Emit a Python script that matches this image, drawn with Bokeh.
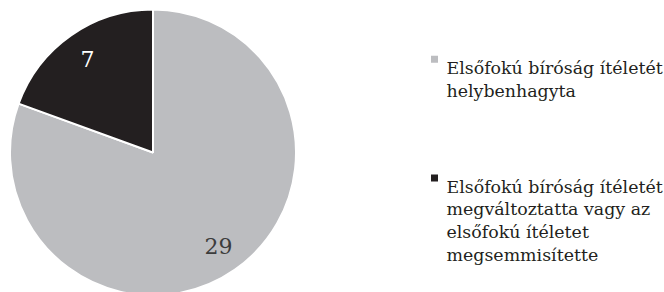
import math
from bokeh.plotting import figure
from bokeh.models import ColumnDataSource, Range1d
from bokeh.core.properties import value
from bokeh.embed import file_html
from bokeh.resources import INLINE

# ---- data ----
categories = [
    "Elsőfokú bíróság ítéletét\nhelybenhagyta",
    "Elsőfokú bíróság ítéletét\nmegváltoztatta vagy az\nelsőfokú ítéletet\nmegsemmisítette",
]
values = [29, 7]
colors = ["#bcbdc0", "#231f20"]
label_colors = ["#3c3c3c", "#ffffff"]

# ---- layout ----
W, H = 664, 292
CX, CY, R = 152.5, H - 152.0, 143.0
FONT = "DejaVu Serif"
LEG_FS = 17.4
NUM_FS = 22
LINE_H = 22.8

p = figure(width=W, height=H, x_range=Range1d(0, W), y_range=Range1d(0, H),
           output_backend="svg", toolbar_location=None, min_border=0,
           x_axis_location=None, y_axis_location=None)
p.grid.visible = False
p.outline_line_color = None
p.background_fill_color = "white"
p.border_fill_color = "white"

total = sum(values)
starts, ends, lx, ly = [], [], [], []
acc = 0.0
for v in values:
    a0 = acc / total * 2 * math.pi
    acc += v
    a1 = acc / total * 2 * math.pi
    starts.append(math.pi / 2 - a1)
    ends.append(math.pi / 2 - a0)
    mid = math.pi / 2 - (a0 + a1) / 2
    lx.append(CX + 0.8 * R * math.cos(mid))
    ly.append(CY + 0.8 * R * math.sin(mid))

src = ColumnDataSource(dict(start=starts, end=ends, color=colors,
                            lx=lx, ly=ly, txt=[str(v) for v in values],
                            tc=label_colors))
p.wedge(x=CX, y=CY, radius=R, radius_units="screen", start_angle="start",
        end_angle="end", direction="anticlock", fill_color="color",
        line_color="white", line_width=2, source=src)
p.text(x="lx", y="ly", text="txt", text_color="tc", source=src,
       text_font=value(FONT), text_font_size=f"{NUM_FS}px",
       text_align="center", text_baseline="middle")

# ---- legend ----
LEG_X_SQ = 434.0
LEG_X_TXT = 446.0
base0 = H - 67.3
step = 118.7
sq_x, sq_y, t_x, t_y, t_txt = [], [], [], [], []
for i, cat in enumerate(categories):
    b = base0 - i * step
    sq_x.append(LEG_X_SQ)
    sq_y.append(b + 8.5)
    for k, line in enumerate(cat.split("\n")):
        t_x.append(LEG_X_TXT)
        t_y.append(b - k * LINE_H)
        t_txt.append(line)

p.scatter(x=sq_x, y=sq_y, marker="square", size=7, fill_color=colors,
          line_color=None)
p.text(x=t_x, y=t_y, text=t_txt, text_color="#231f20",
       text_font=value(FONT), text_font_size=f"{LEG_FS}px",
       text_align="left", text_baseline="alphabetic")

open("out.html", "w").write(file_html(p, INLINE))
